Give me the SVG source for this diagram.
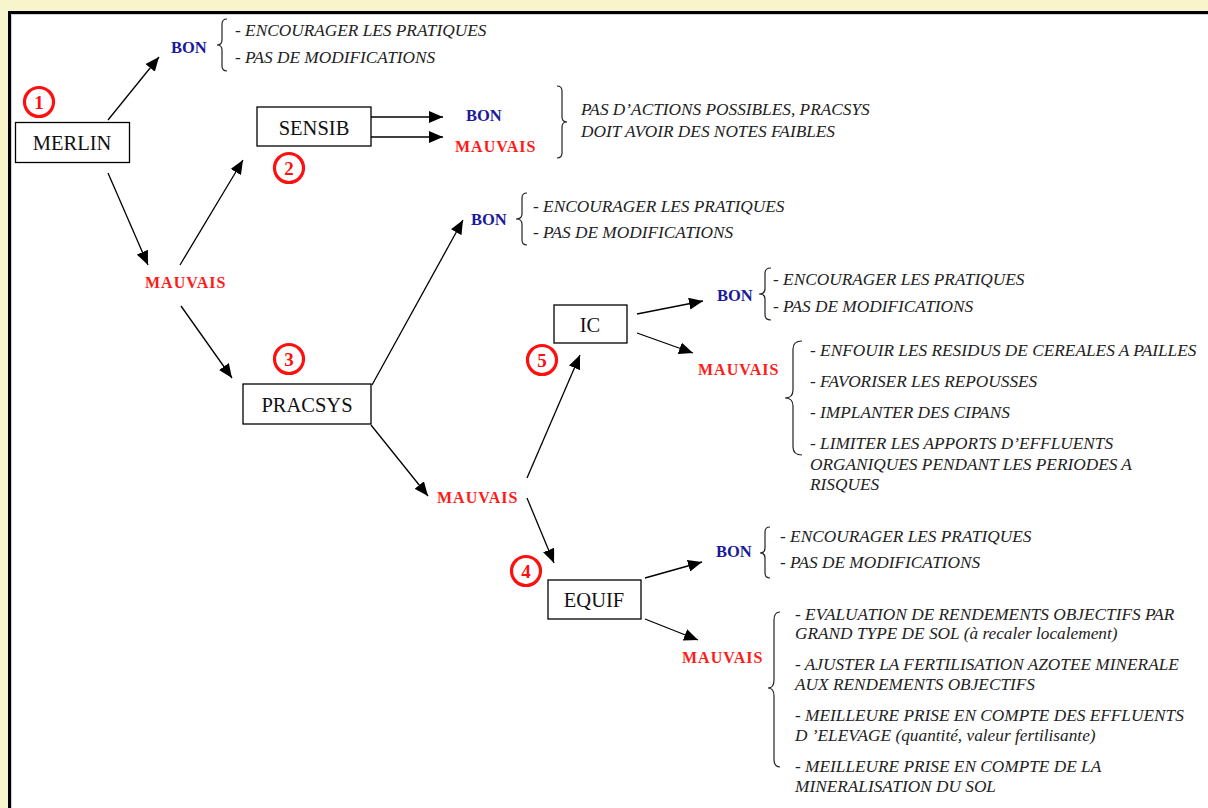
<svg xmlns="http://www.w3.org/2000/svg" width="1208" height="808" viewBox="0 0 1208 808">
<style>
.node rect{fill:#fff;stroke:#000;stroke-width:1.3}
.nt{font-family:"Liberation Serif",serif;font-size:20.5px;fill:#111;text-anchor:middle}
.bon{font-family:"Liberation Serif",serif;font-size:16.5px;font-weight:bold;fill:#1a1a9a}
.mau{font-family:"Liberation Serif",serif;font-size:16px;font-weight:bold;fill:#ff1a1a;letter-spacing:1px}
.it{font-family:"Liberation Serif",serif;font-size:17.3px;font-style:italic;fill:#222}
.br{fill:none;stroke:#222;stroke-width:1.2}
.num circle{fill:none;stroke:#ff1010;stroke-width:3.2}
.num text{font-family:"Liberation Serif",serif;font-size:19px;font-weight:bold;fill:#ff1010;text-anchor:middle}
#connectors line{stroke:#000;stroke-width:1.3;marker-end:url(#ah)}
</style>
<defs>
<marker id="ah" viewBox="0 0 14 12" refX="14" refY="6" markerWidth="14" markerHeight="12" markerUnits="userSpaceOnUse" orient="auto">
<path d="M0,0 L14,6 L0,12 z" fill="#000"/>
</marker>
</defs>
<rect width="1208" height="808" fill="#f8f4cc"/>
<rect x="11" y="14" width="1197" height="794" fill="#fff"/>
<line x1="8" y1="12.5" x2="1208" y2="12.5" stroke="#000" stroke-width="3"/>
<line x1="9.5" y1="11" x2="9.5" y2="808" stroke="#000" stroke-width="3"/>
<line x1="11" y1="14.5" x2="1208" y2="14.5" stroke="#d0d0d0" stroke-width="1"/>
<line x1="11.5" y1="14" x2="11.5" y2="808" stroke="#d0d0d0" stroke-width="1"/>

<g id="connectors">
<line x1="108" y1="120" x2="159" y2="57"/>
<line x1="108" y1="173" x2="148" y2="265"/>
<line x1="180" y1="265" x2="243" y2="160"/>
<line x1="181" y1="306" x2="232" y2="378"/>
<line x1="371" y1="117" x2="443" y2="117"/>
<line x1="371" y1="137" x2="443" y2="137"/>
<line x1="372" y1="385" x2="463" y2="220"/>
<line x1="371" y1="425" x2="428" y2="496"/>
<line x1="527" y1="478" x2="580" y2="355"/>
<line x1="527" y1="498" x2="554" y2="563"/>
<line x1="637" y1="314" x2="703" y2="301"/>
<line x1="637" y1="333" x2="693" y2="353"/>
<line x1="645" y1="578" x2="702" y2="562"/>
<line x1="645" y1="619" x2="698" y2="640"/>
</g>

<g id="merlin" class="node"><rect x="15.5" y="122.5" width="114" height="40"/><text class="nt" x="72" y="150">MERLIN</text></g>
<g id="sensib" class="node"><rect x="257" y="107" width="114" height="39"/><text class="nt" x="314" y="135">SENSIB</text></g>
<g id="pracsys" class="node"><rect x="243" y="384" width="128" height="40"/><text class="nt" x="307" y="412">PRACSYS</text></g>
<g id="ic" class="node"><rect x="554" y="305" width="73" height="38"/><text class="nt" x="590" y="332">IC</text></g>
<g id="equif" class="node"><rect x="548" y="580" width="93" height="39"/><text class="nt" x="594" y="607">EQUIF</text></g>

<g id="n1" class="num"><circle cx="39" cy="102" r="14.5"/><text x="39" y="108.5">1</text></g>
<g id="n2" class="num"><circle cx="289" cy="168" r="14.5"/><text x="289" y="174.5">2</text></g>
<g id="n3" class="num"><circle cx="289" cy="359" r="14.5"/><text x="289" y="365.5">3</text></g>
<g id="n5" class="num"><circle cx="542" cy="360" r="14.5"/><text x="542" y="366.5">5</text></g>
<g id="n4" class="num"><circle cx="526" cy="571" r="14.5"/><text x="526" y="577.5">4</text></g>

<g id="merlin-bon">
<text class="bon" x="171" y="53">BON</text>
<path class="br" d="M227,19 Q222,19 222,24 L222,40 Q222,45 217,45 Q222,45 222,50 L222,66 Q222,71 227,71"/>
<text class="it" x="235" y="36">- ENCOURAGER LES PRATIQUES</text>
<text class="it" x="235" y="63">- PAS DE MODIFICATIONS</text>
</g>

<g id="merlin-mauvais"><text class="mau" x="145" y="288">MAUVAIS</text></g>

<g id="sensib-out">
<text class="bon" x="466" y="121">BON</text>
<text class="mau" x="455" y="152">MAUVAIS</text>
<path class="br" d="M557,86 Q562,86 562,91 L562,117 Q562,122 567,122 Q562,122 562,127 L562,153 Q562,158 557,158"/>
<text class="it" x="581" y="115">PAS D’ACTIONS POSSIBLES, PRACSYS</text>
<text class="it" x="581" y="137">DOIT AVOIR DES NOTES FAIBLES</text>
</g>

<g id="pracsys-bon">
<text class="bon" x="471" y="225">BON</text>
<path class="br" d="M527,193 Q522,193 522,198 L522,214 Q522,219 516,219 Q522,219 522,224 L522,240 Q522,245 527,245"/>
<text class="it" x="533" y="212">- ENCOURAGER LES PRATIQUES</text>
<text class="it" x="533" y="238">- PAS DE MODIFICATIONS</text>
</g>

<g id="pracsys-mauvais"><text class="mau" x="437" y="503">MAUVAIS</text></g>

<g id="ic-bon">
<text class="bon" x="717" y="301">BON</text>
<path class="br" d="M771,268 Q765,268 765,273 L765,289 Q765,294 759,294 Q765,294 765,299 L765,315 Q765,320 771,320"/>
<text class="it" x="773" y="285">- ENCOURAGER LES PRATIQUES</text>
<text class="it" x="773" y="312">- PAS DE MODIFICATIONS</text>
</g>

<g id="ic-mauvais">
<text class="mau" x="698" y="375">MAUVAIS</text>
<path class="br" d="M802,341 Q793,341 793,349 L793,390 Q793,398 785,398 Q793,398 793,406 L793,447 Q793,455 802,455"/>
<text class="it" x="810" y="356">- ENFOUIR LES RESIDUS DE CEREALES A PAILLES</text>
<text class="it" x="810" y="387">- FAVORISER LES REPOUSSES</text>
<text class="it" x="810" y="418">- IMPLANTER DES CIPANS</text>
<text class="it" x="810" y="449">- LIMITER LES APPORTS D’EFFLUENTS</text>
<text class="it" x="810" y="470">ORGANIQUES PENDANT LES PERIODES A</text>
<text class="it" x="810" y="490">RISQUES</text>
</g>

<g id="equif-bon">
<text class="bon" x="716" y="557">BON</text>
<path class="br" d="M770,527 Q765,527 765,532 L765,548 Q765,553 760,553 Q765,553 765,558 L765,573 Q765,578 770,578"/>
<text class="it" x="780" y="542">- ENCOURAGER LES PRATIQUES</text>
<text class="it" x="780" y="568">- PAS DE MODIFICATIONS</text>
</g>

<g id="equif-mauvais">
<text class="mau" x="682" y="663">MAUVAIS</text>
<path class="br" d="M780,612 Q774,612 774,620 L774,680 Q774,688 768,688 Q774,688 774,696 L774,759 Q774,767 780,767"/>
<text class="it" x="795" y="620">- EVALUATION DE RENDEMENTS OBJECTIFS PAR</text>
<text class="it" x="795" y="639">GRAND TYPE DE SOL (à recaler localement)</text>
<text class="it" x="795" y="670">- AJUSTER LA FERTILISATION AZOTEE MINERALE</text>
<text class="it" x="795" y="690">AUX RENDEMENTS OBJECTIFS</text>
<text class="it" x="795" y="721">- MEILLEURE PRISE EN COMPTE DES EFFLUENTS</text>
<text class="it" x="795" y="741">D ’ELEVAGE (quantité, valeur fertilisante)</text>
<text class="it" x="795" y="772">- MEILLEURE PRISE EN COMPTE DE LA</text>
<text class="it" x="795" y="792">MINERALISATION DU SOL</text>
</g>
</svg>
